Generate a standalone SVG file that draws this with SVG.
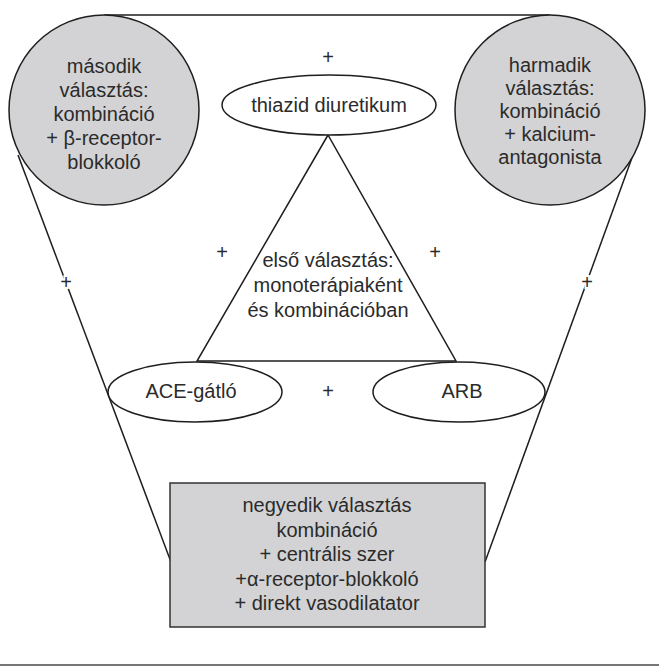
<svg xmlns="http://www.w3.org/2000/svg" width="659" height="666" viewBox="0 0 659 666">
<style>
.t{font-family:"Liberation Sans",Arial,sans-serif;font-size:20px;fill:#2b2b2b;text-anchor:middle}
.p{font-family:"Liberation Sans",Arial,sans-serif;font-size:20px;fill:#2b2b2b;text-anchor:middle;stroke:#fff;stroke-width:4;paint-order:stroke}
.ln{stroke:#1e1e1e;stroke-width:1.5;fill:none}
.g{fill:#d3d3d5;stroke:#1e1e1e;stroke-width:1.5}
.w{fill:#fff;stroke:#1e1e1e;stroke-width:1.5}
</style>
<rect width="659" height="666" fill="#fff"/>
<g id="connectors">
<line class="ln" x1="104" y1="15" x2="550" y2="15"/>
<line class="ln" x1="18" y1="155" x2="171" y2="562"/>
<line class="ln" x1="633" y1="155" x2="485" y2="562"/>
<polygon class="ln" points="328,135 197,361 456,361"/>
<text class="t" x="328" y="64">+</text>
<text class="t" x="222" y="259">+</text>
<text class="t" x="435" y="259">+</text>
<text class="t" x="328" y="398">+</text>
<text class="p" x="66" y="289">+</text>
<text class="p" x="587" y="289">+</text>
</g>
<g id="second">
<circle class="g" cx="104" cy="110" r="95"/>
<text class="t" x="104" y="73">második</text>
<text class="t" x="104" y="97">választás:</text>
<text class="t" x="104" y="121">kombináció</text>
<text class="t" x="104" y="145">+ β-receptor-</text>
<text class="t" x="104" y="169">blokkoló</text>
</g>
<g id="third">
<circle class="g" cx="550" cy="110" r="95"/>
<text class="t" x="550" y="72">harmadik</text>
<text class="t" x="550" y="95">választás:</text>
<text class="t" x="550" y="118">kombináció</text>
<text class="t" x="550" y="141">+ kalcium-</text>
<text class="t" x="550" y="164">antagonista</text>
</g>
<g id="thiazid">
<ellipse class="w" cx="329" cy="105" rx="107" ry="30"/>
<text class="t" x="329" y="112">thiazid diuretikum</text>
</g>
<g id="first">
<text class="t" x="328" y="267">első választás:</text>
<text class="t" x="328" y="292">monoterápiaként</text>
<text class="t" x="328" y="317">és kombinációban</text>
</g>
<g id="ace">
<ellipse class="w" cx="195" cy="392" rx="87" ry="30"/>
<text class="t" x="191" y="398">ACE-gátló</text>
</g>
<g id="arb">
<ellipse class="w" cx="459" cy="392" rx="86" ry="30"/>
<text class="t" x="462" y="398">ARB</text>
</g>
<g id="fourth">
<rect class="g" x="170" y="483" width="315" height="144" style="stroke:#333"/>
<text class="t" x="327" y="512">negyedik választás</text>
<text class="t" x="327" y="537">kombináció</text>
<text class="t" x="327" y="561">+ centrális szer</text>
<text class="t" x="327" y="586">+α-receptor-blokkoló</text>
<text class="t" x="327" y="610">+ direkt vasodilatator</text>
</g>
<line x1="0" y1="665" x2="659" y2="665" stroke="#777" stroke-width="2"/>
</svg>
